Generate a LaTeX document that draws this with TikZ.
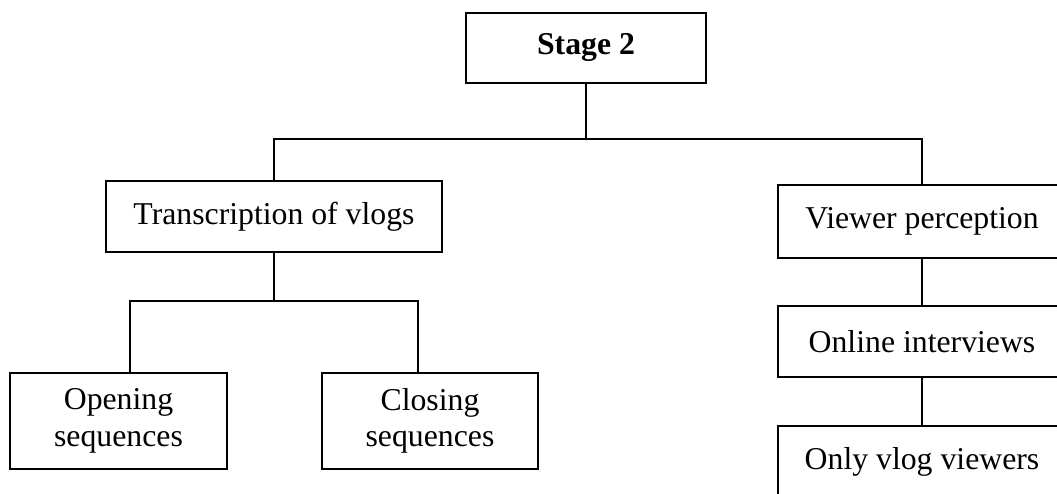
\documentclass[tikz,border=0pt]{standalone}
\usepackage{fontspec}
\setmainfont{Liberation Serif}
\usepackage{tikz}
\usetikzlibrary{calc,positioning}
\tikzset{%
	block/.style    = {draw, rectangle, line width=0.75pt, inner sep=0pt, align=center, font=\fontsize{12.2}{14}\selectfont, text centered},
	headblock/.style= {block, font=\fontsize{12.2}{14}\selectfont\bfseries},
	line/.style     = {line width=0.75pt},
}

\begin{document}
\begin{tikzpicture}[x=0.0135cm,y=-0.0135cm]
		\useasboundingbox (0,0) rectangle (1057,494);
		\clip (0,0) rectangle (1057,494);
		\node[headblock, minimum width=3.25cm, minimum height=0.945cm] (stage) at (586,48) {Stage 2};
		
		\node[block, minimum width=4.54cm, minimum height=0.96cm] (trans) at (274,216.5) {Transcription of vlogs};
		\node[block, minimum width=2.93cm, minimum height=1.3cm] (open) at (118.5,421) {Opening\\sequences};
		\node[block, minimum width=2.92cm, minimum height=1.3cm] (close) at (430,421) {Closing\\sequences};
		
		\node[block, minimum width=3.89cm, minimum height=0.985cm] (viewer) at (922,221.5) {Viewer perception};
		\node[block, minimum width=3.89cm, minimum height=0.96cm] (online) at (922,341.5) {Online interviews};
		\node[block, minimum width=3.89cm, minimum height=0.97cm] (only) at (922,462) {Only vlog viewers};
		
		\coordinate (top) at (586,139);
		\coordinate (lo) at (130,301);
		\coordinate (ro) at (418,301);
		
		\draw[line] (stage.south) -- (top);
		\draw[line] (trans.north) |- (top) -| (viewer.north);
		\draw[line] (trans.south) -- (trans.south |- lo);
		\draw[line] (lo |- open.north) -- (lo) -- (ro) -- (ro |- close.north);
		\draw[line] (viewer.south) -- (online.north);
		\draw[line] (online.south) -- (only.north);
		
	\end{tikzpicture}
\end{document}
